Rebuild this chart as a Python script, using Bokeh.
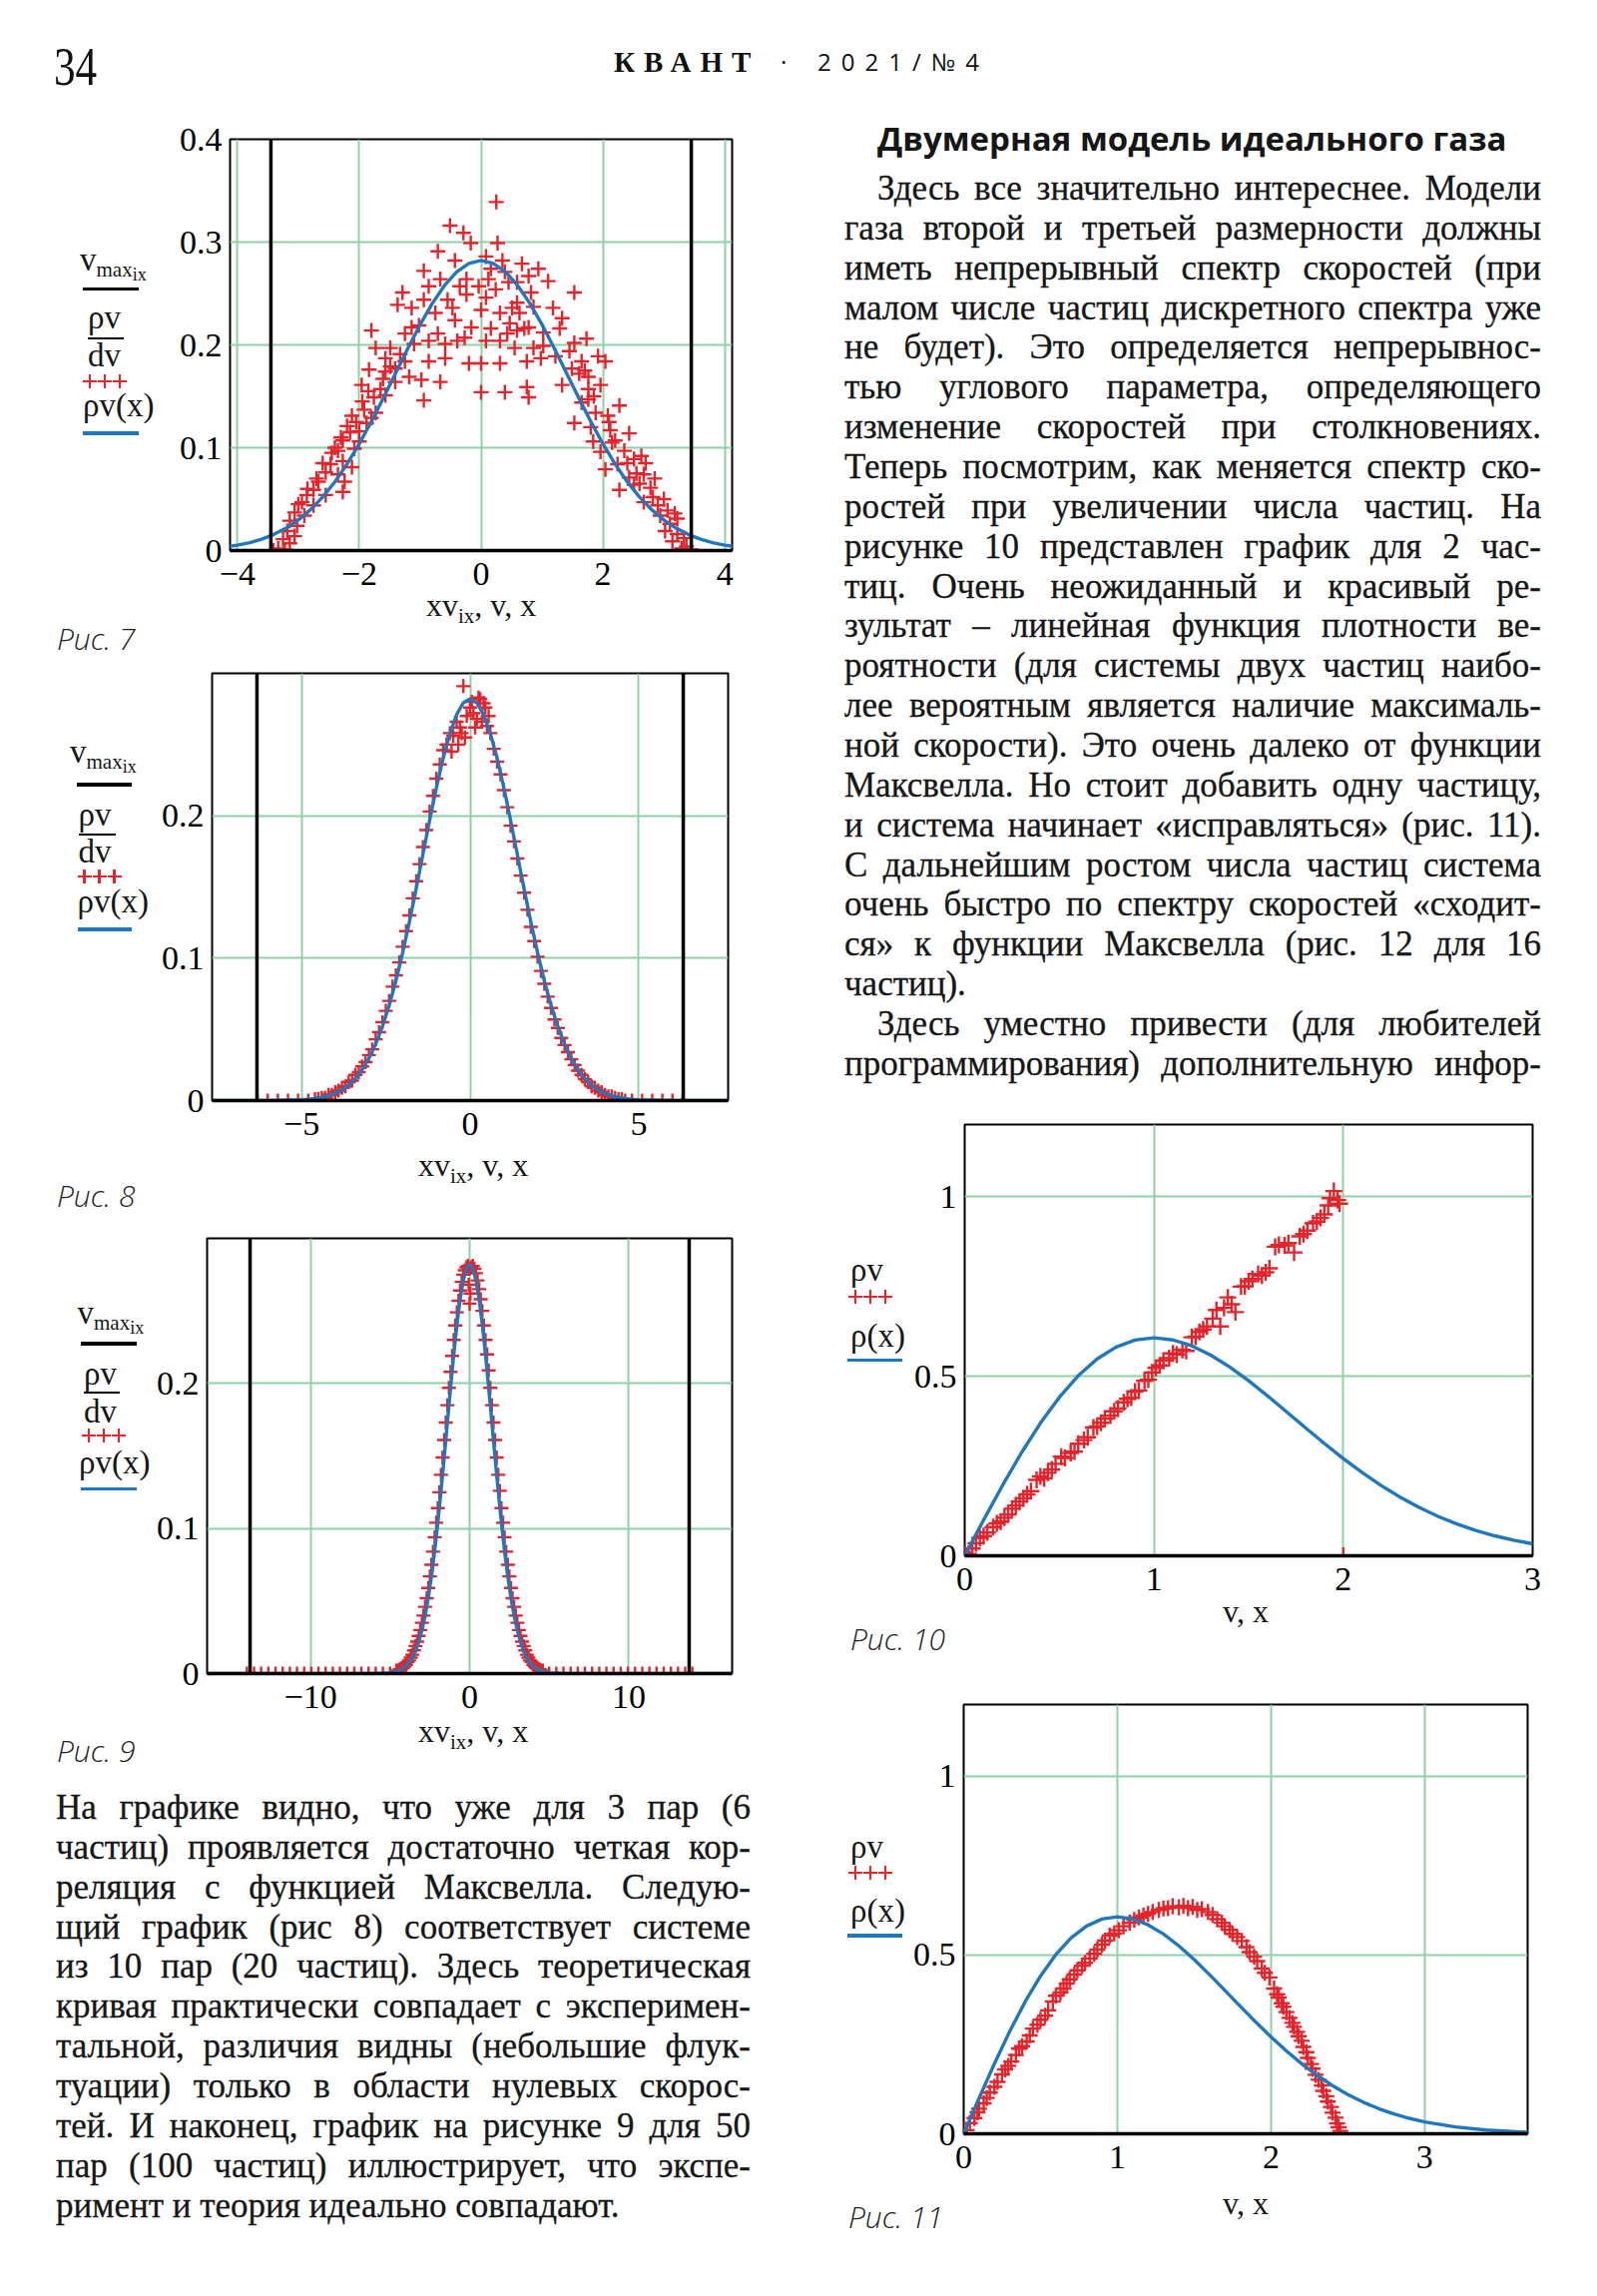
from bokeh.plotting import figure
from bokeh.models import Range1d, FixedTicker, CustomJSTickFormatter, Span, Div
from bokeh.layouts import column, row
from bokeh.embed import file_html
from bokeh.resources import INLINE

# ------------------------------------------------------------------ data
# theoretical density rho_v(x), figs 7-9
GAUSS_X = [-16.5, -10.0, -7.65, -6.0, -5.0,
           -4.8, -4.6, -4.4, -4.2, -4.0, -3.8, -3.6, -3.4, -3.2, -3.0,
           -2.8, -2.6, -2.4, -2.2, -2.0, -1.8, -1.6, -1.4, -1.2, -1.0,
           -0.8, -0.6, -0.4, -0.2, 0.0, 0.2, 0.4, 0.6, 0.8, 1.0,
           1.2, 1.4, 1.6, 1.8, 2.0, 2.2, 2.4, 2.6, 2.8, 3.0,
           3.2, 3.4, 3.6, 3.8, 4.0, 4.2, 4.4, 4.6, 4.8,
           5.0, 6.0, 7.65, 10.0, 16.5]
GAUSS_Y = [0.0, 0.0, 0.0, 0.0001, 0.0005,
           0.0009, 0.0014, 0.0022, 0.0034, 0.0052, 0.0076, 0.0110, 0.0157, 0.0218, 0.0297,
           0.0397, 0.0521, 0.0668, 0.0841, 0.1038, 0.1255, 0.1487, 0.1728, 0.1968, 0.2197,
           0.2404, 0.2578, 0.2710, 0.2793, 0.2821, 0.2793, 0.2710, 0.2578, 0.2404, 0.2197,
           0.1968, 0.1728, 0.1487, 0.1255, 0.1038, 0.0841, 0.0668, 0.0521, 0.0397, 0.0297,
           0.0218, 0.0157, 0.0110, 0.0076, 0.0052, 0.0034, 0.0022, 0.0014, 0.0009,
           0.0005, 0.0001, 0.0, 0.0, 0.0]

# theoretical density rho(x), figs 10-11
RHO_X = [0.0, 0.1, 0.2, 0.3, 0.4, 0.5, 0.6, 0.7, 0.8, 0.9, 1.0,
         1.1, 1.2, 1.3, 1.4, 1.5, 1.6, 1.7, 1.8, 1.9, 2.0,
         2.1, 2.2, 2.3, 2.4, 2.5, 2.6, 2.7, 2.8, 2.9, 3.0,
         3.2, 3.4, 3.6, 3.7]
RHO_Y = [0.0, 0.0995, 0.196, 0.2868, 0.3692, 0.4412, 0.5012, 0.5479, 0.5809, 0.6003, 0.6065,
         0.6007, 0.5841, 0.5585, 0.5254, 0.4870, 0.4448, 0.4007, 0.3562, 0.3126, 0.2707,
         0.2316, 0.1956, 0.1633, 0.1347, 0.1098, 0.0884, 0.0704, 0.0555, 0.0432, 0.0333,
         0.0191, 0.0105, 0.0055, 0.0039]

# maximal velocities (black vertical lines)
VMAX7 = [-3.45, 3.45]
VMAX8 = [-6.32, 6.32]
VMAX9 = [-13.8, 13.8]

# experimental points, fig 7 (6 particles)
FIG7_PTS = [
    (0.25, 0.339), (-0.51, 0.316), (-0.29, 0.309), (-0.17, 0.299), (0.27, 0.299), (-0.71, 0.291),
    (-0.43, 0.282), (0.08, 0.286), (0.35, 0.282), (-0.94, 0.272), (0.67, 0.279), (0.94, 0.274),
    (1.10, 0.262), (1.53, 0.251), (-1.29, 0.251), (-0.86, 0.257), (-0.67, 0.264), (0.45, 0.261),
    (0.16, 0.274), (-1.37, 0.239), (-1.14, 0.236), (-1.80, 0.214), (-0.94, 0.244), (-0.47, 0.236),
    (-0.24, 0.249), (0.08, 0.246), (0.59, 0.241), (0.82, 0.251), (1.18, 0.236), (1.33, 0.226),
    (-1.02, 0.219), (-0.71, 0.211), (-0.43, 0.224), (-0.16, 0.217), (0.16, 0.216), (0.47, 0.221),
    (0.78, 0.217), (1.02, 0.212), (1.29, 0.216), (1.53, 0.202), (1.73, 0.206), (-1.73, 0.197),
    (-1.57, 0.187), (-1.33, 0.191), (-1.10, 0.201), (-0.86, 0.184), (-0.59, 0.187), (-0.20, 0.182),
    (0.00, 0.182), (0.31, 0.182), (0.75, 0.184), (0.98, 0.187), (1.22, 0.189), (1.45, 0.194),
    (1.65, 0.184), (1.92, 0.189), (-1.84, 0.176), (-1.61, 0.167), (-1.41, 0.177), (-1.18, 0.169),
    (-0.98, 0.166), (-0.67, 0.164), (0.00, 0.154), (0.39, 0.154), (0.75, 0.159), (0.78, 0.149),
    (1.33, 0.161), (1.61, 0.172), (1.76, 0.169), (1.96, 0.161), (1.76, 0.147), (-1.96, 0.161),
    (-1.76, 0.149), (-1.57, 0.151), (-0.94, 0.146), (-1.92, 0.137), (-2.12, 0.131), (-1.88, 0.124),
    (-2.00, 0.116), (-2.20, 0.121), (-2.27, 0.107), (-2.08, 0.099), (-2.35, 0.097), (-2.27, 0.087),
    (-2.47, 0.084), (-2.55, 0.076), (-2.35, 0.074), (-2.67, 0.067), (-2.75, 0.059), (-2.55, 0.054),
    (-2.86, 0.054), (-2.94, 0.047), (-2.75, 0.044), (-3.06, 0.037), (-2.90, 0.034), (-3.14, 0.029),
    (-3.02, 0.024), (-3.18, 0.019), (-3.06, 0.014), (-3.25, 0.011), (-3.14, 0.007), (-3.33, 0.002),
    (-3.22, 0.001), (-3.41, 0.000), (-2.27, 0.057), (-2.12, 0.081), (-2.24, 0.067), (-2.00, 0.106),
    (-1.80, 0.129), (-1.73, 0.134), (-2.40, 0.100), (-2.30, 0.110), (-2.15, 0.115), (-2.60, 0.085),
    (-2.70, 0.070), (-2.85, 0.060), (-3.00, 0.045), (-2.45, 0.095), (-2.05, 0.125), (-1.95, 0.145),
    (-1.85, 0.155), (1.53, 0.124), (1.88, 0.134), (2.08, 0.131), (2.27, 0.141), (2.12, 0.117),
    (1.84, 0.106), (1.96, 0.096), (2.20, 0.107), (2.43, 0.114), (2.35, 0.097), (2.04, 0.079),
    (2.24, 0.084), (2.51, 0.089), (2.63, 0.092), (2.43, 0.071), (2.67, 0.074), (2.27, 0.059),
    (2.51, 0.064), (2.78, 0.061), (2.82, 0.052), (2.67, 0.047), (2.90, 0.044), (3.06, 0.039),
    (2.94, 0.034), (3.18, 0.036), (3.10, 0.026), (3.22, 0.031), (3.02, 0.019), (3.22, 0.016),
    (3.33, 0.012), (3.14, 0.009), (3.37, 0.004), (3.45, 0.001), (3.29, 0.002), (2.60, 0.065),
    (2.70, 0.085), (2.85, 0.070), (3.00, 0.050), (2.55, 0.075), (2.40, 0.085), (1.65, 0.144),
    (1.76, 0.157), (1.49, 0.177), (2.04, 0.184), (1.70, 0.175), (1.85, 0.150), (1.80, 0.120),
    (2.10, 0.125), (2.15, 0.105), (1.02, 0.199), (0.86, 0.197), (0.55, 0.197), (0.43, 0.211),
    (0.51, 0.236), (0.63, 0.231), (0.71, 0.216), (-1.49, 0.197), (-1.25, 0.211), (-1.14, 0.217),
    (-0.86, 0.204), (-0.75, 0.231), (-0.55, 0.244), (-0.35, 0.257), (-0.24, 0.264), (-0.04, 0.257),
    (0.12, 0.264), (0.24, 0.254), (0.39, 0.271), (0.59, 0.261), (0.78, 0.267), (0.86, 0.237),
    (0.31, 0.231), (0.00, 0.234), (-0.27, 0.207), (-0.39, 0.204), (-0.59, 0.201), (0.08, 0.204),
    (0.31, 0.204), (0.59, 0.214), (-1.41, 0.164), (-1.65, 0.157), (-1.25, 0.184), (-1.49, 0.179),
    (-1.57, 0.174),
]

# experimental points, fig 8 (20 particles)
FIG8_PTS = [
    (-6.3, 0.0), (-6.0, 0.0), (-5.7, 0.0), (-5.4, 0.0), (-5.1, 0.0), (-4.8, 0.0),
    (-4.6, 0.001), (-4.5, 0.001), (-4.4, 0.002), (-4.3, 0.002), (-4.2, 0.004), (-4.1, 0.004),
    (-4.0, 0.006), (-3.9, 0.007), (-3.8, 0.009), (-3.7, 0.010), (-3.6, 0.013), (-3.5, 0.014),
    (-3.4, 0.018), (-3.3, 0.020), (-3.2, 0.024), (-3.1, 0.027), (-3.0, 0.032), (-2.9, 0.036),
    (-2.8, 0.043), (-2.7, 0.048), (-2.6, 0.055), (-2.5, 0.063), (-2.4, 0.070), (-2.3, 0.080),
    (-2.2, 0.088), (-2.1, 0.097), (-2.0, 0.108), (-1.9, 0.119), (-1.8, 0.130), (-1.7, 0.142),
    (-1.6, 0.154), (-1.5, 0.166), (-1.4, 0.178), (-1.3, 0.190), (-1.2, 0.203), (-1.1, 0.214),
    (-1.0, 0.226), (-0.9, 0.236), (-0.8, 0.246), (-0.7, 0.250), (-0.6, 0.258), (-0.5, 0.256),
    (-0.4, 0.266), (-0.3, 0.262), (-0.2, 0.291), (-0.1, 0.270), (0.0, 0.276), (0.1, 0.272),
    (0.2, 0.268), (0.3, 0.282), (0.4, 0.279), (0.5, 0.263), (0.6, 0.258), (0.7, 0.247),
    (0.8, 0.238), (0.9, 0.229), (1.0, 0.218), (1.1, 0.206), (1.2, 0.193), (1.3, 0.182),
    (1.4, 0.170), (1.5, 0.158), (1.6, 0.146), (1.7, 0.134), (1.8, 0.122), (1.9, 0.112),
    (2.0, 0.101), (2.1, 0.091), (2.2, 0.082), (2.3, 0.073), (2.4, 0.065), (2.5, 0.057),
    (2.6, 0.051), (2.7, 0.044), (2.8, 0.039), (2.9, 0.034), (3.0, 0.029), (3.1, 0.025),
    (3.2, 0.021), (3.3, 0.018), (3.4, 0.015), (3.5, 0.013), (3.6, 0.010), (3.7, 0.009),
    (3.8, 0.007), (3.9, 0.006), (4.0, 0.004), (4.1, 0.003), (4.2, 0.003), (4.3, 0.002),
    (4.4, 0.001), (4.5, 0.001), (4.6, 0.0), (4.8, 0.0), (5.1, 0.0), (5.4, 0.0),
    (5.7, 0.0), (6.0, 0.0), (6.3, 0.0),
    (-0.35, 0.250), (-0.15, 0.255), (0.15, 0.262), (0.35, 0.266), (-0.55, 0.245), (0.55, 0.270),
    (0.05, 0.280), (0.25, 0.283), (-0.25, 0.258), (0.45, 0.276),
]

# experimental points, fig 9 (100 particles)
FIG9_PTS = [
    (-14.0, 0.0), (-13.55, 0.0), (-13.1, 0.0), (-12.65, 0.0), (-12.2, 0.0), (-11.75, 0.0),
    (-11.3, 0.0), (-10.85, 0.0), (-10.4, 0.0), (-9.95, 0.0), (-9.5, 0.0), (-9.05, 0.0),
    (-8.6, 0.0), (-8.15, 0.0), (-7.7, 0.0), (-7.25, 0.0), (-6.8, 0.0), (-6.35, 0.0),
    (-5.9, 0.0), (-5.45, 0.0), (-5.0, 0.0),
    (-4.6, 0.002), (-4.5, 0.002), (-4.4, 0.003), (-4.3, 0.003), (-4.2, 0.004), (-4.1, 0.005),
    (-4.0, 0.006), (-3.9, 0.008), (-3.8, 0.009), (-3.7, 0.011), (-3.6, 0.013), (-3.5, 0.016),
    (-3.4, 0.019), (-3.3, 0.022), (-3.2, 0.026), (-3.1, 0.030), (-3.0, 0.035), (-2.9, 0.040),
    (-2.8, 0.046), (-2.7, 0.052), (-2.6, 0.059), (-2.5, 0.067), (-2.4, 0.075), (-2.3, 0.084),
    (-2.2, 0.094), (-2.1, 0.104), (-2.0, 0.114), (-1.9, 0.125), (-1.8, 0.137), (-1.7, 0.149),
    (-1.6, 0.161), (-1.5, 0.173), (-1.4, 0.185), (-1.3, 0.197), (-1.2, 0.208), (-1.1, 0.219),
    (-1.0, 0.230), (-0.9, 0.240), (-0.8, 0.249), (-0.7, 0.257), (-0.6, 0.264), (-0.5, 0.270),
    (-0.4, 0.275), (-0.3, 0.278), (-0.2, 0.280), (-0.1, 0.281), (0.0, 0.279), (-0.05, 0.268),
    (0.05, 0.262), (0.0, 0.255),
    (0.1, 0.280), (0.2, 0.281), (0.3, 0.279), (0.4, 0.276), (0.5, 0.271), (0.6, 0.265),
    (0.7, 0.258), (0.8, 0.250), (0.9, 0.240), (1.0, 0.230), (1.1, 0.220), (1.2, 0.209),
    (1.3, 0.197), (1.4, 0.185), (1.5, 0.173), (1.6, 0.161), (1.7, 0.149), (1.8, 0.137),
    (1.9, 0.126), (2.0, 0.114), (2.1, 0.104), (2.2, 0.094), (2.3, 0.084), (2.4, 0.075),
    (2.5, 0.067), (2.6, 0.059), (2.7, 0.052), (2.8, 0.046), (2.9, 0.040), (3.0, 0.035),
    (3.1, 0.030), (3.2, 0.026), (3.3, 0.022), (3.4, 0.019), (3.5, 0.016), (3.6, 0.013),
    (3.7, 0.011), (3.8, 0.009), (3.9, 0.008), (4.0, 0.006), (4.1, 0.005), (4.2, 0.004),
    (4.3, 0.003), (4.4, 0.003), (4.5, 0.002), (4.6, 0.002),
    (5.0, 0.0), (5.45, 0.0), (5.9, 0.0), (6.35, 0.0), (6.8, 0.0), (7.25, 0.0),
    (7.7, 0.0), (8.15, 0.0), (8.6, 0.0), (9.05, 0.0), (9.5, 0.0), (9.95, 0.0),
    (10.4, 0.0), (10.85, 0.0), (11.3, 0.0), (11.75, 0.0), (12.2, 0.0), (12.65, 0.0),
    (13.1, 0.0), (13.55, 0.0), (14.0, 0.0),
]

# experimental points, fig 10 (2 particles)
FIG10_PTS = [
    (0.00, 0.010), (0.02, 0.005), (0.04, 0.020), (0.06, 0.035), (0.08, 0.050), (0.10, 0.055),
    (0.12, 0.065), (0.15, 0.080), (0.17, 0.090), (0.19, 0.095), (0.21, 0.106), (0.23, 0.115),
    (0.25, 0.131), (0.27, 0.140), (0.29, 0.151), (0.31, 0.160), (0.33, 0.171), (0.35, 0.180),
    (0.38, 0.211), (0.40, 0.221), (0.42, 0.215), (0.44, 0.231), (0.46, 0.240), (0.48, 0.256),
    (0.51, 0.276), (0.53, 0.272), (0.56, 0.286), (0.58, 0.290), (0.60, 0.312), (0.63, 0.322),
    (0.65, 0.330), (0.68, 0.357), (0.70, 0.360), (0.72, 0.370), (0.74, 0.382), (0.77, 0.390),
    (0.79, 0.402), (0.81, 0.410), (0.84, 0.427), (0.86, 0.437), (0.88, 0.440), (0.90, 0.457),
    (0.92, 0.460), (0.95, 0.487), (0.97, 0.490), (0.99, 0.510), (1.01, 0.523), (1.03, 0.530),
    (1.05, 0.543), (1.08, 0.550), (1.10, 0.563), (1.12, 0.560), (1.15, 0.573), (1.17, 0.570),
    (1.20, 0.608), (1.22, 0.610), (1.24, 0.623), (1.26, 0.630), (1.28, 0.638), (1.31, 0.660),
    (1.33, 0.684), (1.35, 0.638), (1.37, 0.690), (1.39, 0.719), (1.41, 0.700), (1.43, 0.678),
    (1.46, 0.749), (1.48, 0.750), (1.50, 0.764), (1.52, 0.770), (1.55, 0.784), (1.57, 0.780),
    (1.59, 0.789), (1.61, 0.800), (1.64, 0.860), (1.66, 0.865), (1.69, 0.864), (1.71, 0.870),
    (1.74, 0.844), (1.77, 0.889), (1.79, 0.895), (1.81, 0.905), (1.84, 0.925), (1.86, 0.930),
    (1.88, 0.940), (1.90, 0.950), (1.92, 0.975), (1.93, 0.995), (1.95, 1.015), (1.97, 0.990),
    (1.98, 0.980), (2.00, 0.000),
]

# experimental points, fig 11 (3 particles)
FIG11_PTS = [
    (0.00, 0.000), (0.02, 0.010), (0.04, 0.030), (0.07, 0.044), (0.09, 0.060), (0.10, 0.070),
    (0.13, 0.085), (0.15, 0.100), (0.17, 0.115), (0.20, 0.131), (0.22, 0.145), (0.25, 0.166),
    (0.27, 0.180), (0.29, 0.190), (0.31, 0.202), (0.34, 0.220), (0.36, 0.238), (0.38, 0.245),
    (0.41, 0.258), (0.43, 0.275), (0.45, 0.294), (0.48, 0.305), (0.50, 0.319), (0.53, 0.330),
    (0.55, 0.345), (0.58, 0.370), (0.60, 0.386), (0.63, 0.395), (0.65, 0.406), (0.67, 0.420),
    (0.69, 0.432), (0.72, 0.445), (0.74, 0.457), (0.77, 0.470), (0.79, 0.478), (0.82, 0.490),
    (0.85, 0.503), (0.87, 0.515), (0.90, 0.529), (0.92, 0.540), (0.95, 0.554), (0.98, 0.560),
    (1.01, 0.569), (1.04, 0.580), (1.08, 0.590), (1.11, 0.598), (1.14, 0.605), (1.17, 0.610),
    (1.20, 0.615), (1.23, 0.620), (1.27, 0.626), (1.30, 0.630), (1.33, 0.631), (1.36, 0.636),
    (1.40, 0.633), (1.43, 0.637), (1.46, 0.631), (1.49, 0.634), (1.52, 0.626), (1.55, 0.628),
    (1.59, 0.620), (1.62, 0.612), (1.65, 0.600), (1.68, 0.590), (1.70, 0.580), (1.73, 0.570),
    (1.75, 0.559), (1.78, 0.550), (1.81, 0.539), (1.84, 0.522), (1.86, 0.508), (1.89, 0.495),
    (1.91, 0.483), (1.94, 0.462), (1.96, 0.450), (1.99, 0.437), (2.02, 0.406), (2.04, 0.390),
    (2.05, 0.381), (2.07, 0.365), (2.08, 0.355), (2.10, 0.340), (2.12, 0.324), (2.14, 0.310),
    (2.15, 0.299), (2.17, 0.285), (2.18, 0.273), (2.20, 0.260), (2.21, 0.243), (2.23, 0.228),
    (2.24, 0.212), (2.26, 0.195), (2.27, 0.182), (2.29, 0.165), (2.31, 0.151), (2.33, 0.135),
    (2.34, 0.120), (2.36, 0.105), (2.37, 0.090), (2.39, 0.075), (2.40, 0.059), (2.42, 0.045),
    (2.43, 0.029), (2.44, 0.018), (2.45, 0.008),
]

# axis ticks
X7_TICKS, Y7_TICKS = [-4, -2, 0, 2, 4], [0, 0.1, 0.2, 0.3, 0.4]
X8_TICKS, Y8_TICKS = [-5, 0, 5], [0, 0.1, 0.2]
X9_TICKS, Y9_TICKS = [-10, 0, 10], [0, 0.1, 0.2]
X10_TICKS, Y10_TICKS = [0, 1, 2, 3], [0, 0.5, 1]
X11_TICKS, Y11_TICKS = [0, 1, 2, 3], [0, 0.5, 1]

# page texts
HEADER_PAGE = "34"
HEADER_MAG = "КВАНТ"
HEADER_ISSUE = "2021/№4"
TITLE = "Двумерная модель идеального газа"
RIGHT_LINES = [
    "Здесь все значительно интереснее. Модели",
    "газа второй и третьей размерности должны",
    "иметь непрерывный спектр скоростей (при",
    "малом числе частиц дискретного спектра уже",
    "не будет). Это определяется непрерывнос-",
    "тью углового параметра, определяющего",
    "изменение скоростей при столкновениях.",
    "Теперь посмотрим, как меняется спектр ско-",
    "ростей при увеличении числа частиц. На",
    "рисунке 10 представлен график для 2 час-",
    "тиц. Очень неожиданный и красивый ре-",
    "зультат – линейная функция плотности ве-",
    "роятности (для системы двух частиц наибо-",
    "лее вероятным является наличие максималь-",
    "ной скорости). Это очень далеко от функции",
    "Максвелла. Но стоит добавить одну частицу,",
    "и система начинает «исправляться» (рис. 11).",
    "С дальнейшим ростом числа частиц система",
    "очень быстро по спектру скоростей «сходит-",
    "ся» к функции Максвелла (рис. 12 для 16",
    "частиц).",
    "Здесь уместно привести (для любителей",
    "программирования) дополнительную инфор-",
]
RIGHT_MODES = ["ji"] + ["j"] * 19 + ["l", "ji", "j"]
LEFT_LINES = [
    "На графике видно, что уже для 3 пар (6",
    "частиц) проявляется достаточно четкая кор-",
    "реляция с функцией Максвелла. Следую-",
    "щий график (рис 8) соответствует системе",
    "из 10 пар (20 частиц). Здесь теоретическая",
    "кривая практически совпадает с эксперимен-",
    "тальной, различия видны (небольшие флук-",
    "туации) только в области нулевых скорос-",
    "тей. И наконец, график на рисунке 9 для 50",
    "пар (100 частиц) иллюстрирует, что экспе-",
    "римент и теория идеально совпадают.",
]
LEFT_MODES = ["j"] * 10 + ["l"]

# ------------------------------------------------------------------ style
RED = "#e5232b"
BLUE = "#1f78be"
GREEN = "#8ed2a6"
INK = "#161616"
SERIF = "Liberation Serif"
SANS = "Open Sans"
SERIF_ASC = 0.8375   # baseline offset for line-height = 1em
SANS_ASC = 0.888
LEG = 33             # legend font size

TICK_FMT = "return tick < 0 ? '\u2212' + String(-tick) : String(tick);"


def chart(w, h, bl, br, bt, bb, xr, yr, xt, yt):
    p = figure(width=w, height=h, x_range=Range1d(*xr), y_range=Range1d(*yr),
               output_backend="svg", toolbar_location=None, title=None,
               min_border_left=bl, min_border_right=br, min_border_top=bt, min_border_bottom=bb,
               background_fill_color="white", border_fill_color="white", margin=0)
    p.outline_line_color = "black"
    p.outline_line_width = 2
    for ax, ticks in ((p.xaxis[0], xt), (p.yaxis[0], yt)):
        ax.ticker = FixedTicker(ticks=ticks)
        ax.formatter = CustomJSTickFormatter(code=TICK_FMT)
        ax.major_tick_line_color = None
        ax.minor_tick_line_color = None
        ax.major_tick_out = 0
        ax.major_tick_in = 0
        ax.minor_tick_out = 0
        ax.minor_tick_in = 0
        ax.axis_line_color = None
        ax.major_label_text_font = SERIF
        ax.major_label_text_font_size = "34px"
        ax.major_label_text_color = "black"
    p.xaxis.axis_line_color = "black"
    p.xaxis.axis_line_width = 3.5
    p.xaxis.major_label_standoff = 12
    p.yaxis.major_label_standoff = 8
    p.xgrid.ticker = FixedTicker(ticks=xt)
    p.ygrid.ticker = FixedTicker(ticks=yt)
    for g in (p.xgrid[0], p.ygrid[0]):
        g.grid_line_color = GREEN
        g.grid_line_width = 2
    return p


def xy(pts):
    return [a for a, b in pts], [b for a, b in pts]


def gauss_chart(w, h, bl, br, bt, bb, xr, yr, xt, yt, vmax, pts, msize):
    p = chart(w, h, bl, br, bt, bb, xr, yr, xt, yt)
    for v in vmax:
        p.add_layout(Span(location=v, dimension="height", line_color="black", line_width=3.5))
    xs, ys = xy(pts)
    p.scatter(xs, ys, marker="cross", size=msize, line_color=RED, line_width=2.4)
    p.line(GAUSS_X, GAUSS_Y, line_color=BLUE, line_width=3.4)
    return p


def rho_chart(w, h, bl, br, bt, bb, xr, yr, xt, yt, pts, msize):
    p = chart(w, h, bl, br, bt, bb, xr, yr, xt, yt)
    xs, ys = xy(pts)
    p.scatter(xs, ys, marker="cross", size=msize, line_color=RED, line_width=2.4)
    p.line(RHO_X, RHO_Y, line_color=BLUE, line_width=3.4)
    return p


# ------------------------------------------------------------------ html helpers (page pixel coords)
def t(X, Y, text, size, o, color=INK, font=SERIF, asc=SERIF_ASC, extra=""):
    ox, oy = o
    return (f'<span style="position:absolute;left:{X - ox:.1f}px;top:{Y - asc * size - oy:.1f}px;'
            f'white-space:nowrap;font-family:\'{font}\';font-size:{size}px;line-height:{size}px;'
            f'color:{color};{extra}">{text}</span>')


def bar(X0, X1, Y, w, color, o):
    ox, oy = o
    return (f'<div style="position:absolute;left:{X0 - ox:.1f}px;top:{Y - w / 2 - oy:.1f}px;'
            f'width:{X1 - X0:.1f}px;height:{w}px;background:{color};"></div>')


def vbar(X, Y0, Y1, w, color, o):
    ox, oy = o
    return (f'<div style="position:absolute;left:{X - w / 2 - ox:.1f}px;top:{Y0 - oy:.1f}px;'
            f'width:{w}px;height:{Y1 - Y0:.1f}px;background:{color};"></div>')


def crosses(X0, Yc, o, n=3, s=14, step=15, w=2.4):
    out = []
    for k in range(n):
        xc = X0 + s / 2 + k * step
        out.append(bar(xc - s / 2, xc + s / 2, Yc, w, RED, o))
        out.append(vbar(xc, Yc - s / 2, Yc + s / 2, w, RED, o))
    return "".join(out)


def box(parts, w, h):
    html = f'<div style="position:relative;width:{w}px;height:{h}px;">' + "".join(parts) + "</div>"
    return Div(text=html, width=w, height=h, margin=0)


VMAX_HTML = ('v<span style="font-size:21px;vertical-align:-6px;">max'
             '<span style="font-size:18px;vertical-align:-4px;">ix</span></span>')


def gauss_legend(o, vx, vy, rl, nx, ny, bl_, dx, dy, px, py, rx, ry, ul):
    return [
        t(vx, vy, VMAX_HTML, LEG, o),
        bar(rl[0], rl[1], rl[2], 3.5, "black", o),
        t(nx, ny, "ρv", LEG, o),
        bar(bl_[0], bl_[1], bl_[2], 2, "black", o),
        t(dx, dy, "dv", LEG, o),
        crosses(px, py, o),
        t(rx, ry, "ρv(x)", LEG, o),
        bar(ul[0], ul[1], ul[2], 3.5, BLUE, o),
    ]


def rho_legend(o, nx, ny, px, py, rx, ry, ul):
    return [
        t(nx, ny, "ρv", LEG, o),
        crosses(px, py, o),
        t(rx, ry, "ρ(x)", LEG, o),
        bar(ul[0], ul[1], ul[2], 3.5, BLUE, o),
    ]


def xlabel_gauss(X, Y, o):
    return t(X, Y, 'xv<span style="font-size:21px;vertical-align:-7px;">ix</span>, v, x', 32, o)


def caption(X, Y, text, o):
    return t(X, Y, text, 30, o, color="#232323", font=SANS, asc=SANS_ASC,
             extra="font-style:italic;font-weight:300;")


# ------------------------------------------------------------------ left column blocks
# fig 7: row at page y 100..592, caption block 592..662
o7 = (8, 100)
leg7 = box(gauss_legend(o7, 80, 272, (83, 139, 289.5), 88, 330, (88, 124, 338.7),
                        88, 368, 83, 382, 83, 418, (83, 139, 434)), 160, 492)
fig7 = gauss_chart(640, 492, 62, 75, 39, 41, (-4.12, 4.12), (0, 0.4), X7_TICKS, Y7_TICKS, VMAX7,
                   FIG7_PTS, 15)
o7b = (8, 592)
cap7 = box([xlabel_gauss(427, 617, o7b), caption(57, 652, "Рис. 7", o7b)], 800, 70)

# fig 8: row at page y 662..1145, caption block 1145..1216
o8 = (8, 662)
leg8 = box(gauss_legend(o8, 70, 765, (77, 132, 785.7), 78.5, 828, (78.5, 116, 835.7),
                        78.5, 865, 77.5, 878, 77.5, 915, (77.5, 132, 931)), 150, 483)
fig8 = gauss_chart(650, 483, 53, 79, 12, 43, (-7.65, 7.65), (0, 0.30), X8_TICKS, Y8_TICKS, VMAX8,
                   FIG8_PTS, 14)
o8b = (8, 1145)
cap8 = box([xlabel_gauss(419, 1178, o8b), caption(57, 1210, "Рис. 8", o8b)], 800, 71)

# fig 9: row at page y 1216..1716, caption block 1716..1772
o9 = (8, 1216)
leg9 = box(gauss_legend(o9, 77.5, 1327, (81, 137, 1345.7), 84, 1388, (84, 120, 1395),
                        84, 1426, 82, 1438, 79, 1477, (81, 137, 1491.4)), 145, 500)
fig9 = gauss_chart(655, 500, 51, 75, 24, 40, (-16.5, 16.5), (0, 0.30), X9_TICKS, Y9_TICKS, VMAX9,
                   FIG9_PTS, 14)
o9b = (8, 1716)
cap9 = box([xlabel_gauss(419, 1745, o9b), caption(57, 1766, "Рис. 9", o9b)], 800, 56)


# ------------------------------------------------------------------ right column blocks
# fig 10: row at page y 1100..1602, caption block 1602..1665
o10 = (808, 1100)
leg10 = box(rho_legend(o10, 852, 1284, 850, 1299, 852, 1350, (849, 904, 1362.4)), 104, 502)
fig10 = rho_chart(680, 502, 53, 57, 26, 44, (0, 3), (0, 1.2), X10_TICKS, Y10_TICKS, FIG10_PTS, 17)
o10b = (808, 1602)
cap10 = box([t(1225, 1625, "v, x", 32, o10b), caption(852, 1654, "Рис. 10", o10b)], 784, 63)

# fig 11: row at page y 1665..2180, caption block 2180..2292
o11 = (808, 1665)
leg11 = box(rho_legend(o11, 852, 1862, 850, 1876, 852, 1926, (849, 904, 1939)), 103, 515)
fig11 = rho_chart(681, 515, 53, 62, 42, 43, (0, 3.67), (0, 1.2), X11_TICKS, Y11_TICKS, FIG11_PTS, 16)
o11b = (808, 2180)
cap11 = box([t(1225, 2218, "v, x", 32, o11b), caption(850, 2233, "Рис. 11", o11b)], 784, 112)


# ------------------------------------------------------------------ text blocks
def lines_html(lines, modes, width, size, lh, indent):
    out = []
    for ln, m in zip(lines, modes):
        st = f"height:{lh}px;line-height:{lh}px;"
        if m.startswith("j"):
            st += "text-align:justify;text-align-last:justify;"
        else:
            st += "text-align:left;"
        if m.endswith("i"):
            st += f"text-indent:{indent}px;"
        out.append(f'<div style="{st}">{ln}</div>')
    return (f'<div style="width:{width}px;font-family:\'{SERIF}\';font-size:{size}px;'
            f'color:{INK};-webkit-text-stroke:0.3px {INK};">' + "".join(out) + "</div>")


header_html = (
    '<div style="position:relative;width:1584px;height:92px;color:#111;">'
    f'<span style="position:absolute;left:46px;top:32px;display:inline-block;font-family:\'{SERIF}\';'
    f'font-size:54px;line-height:54px;transform:scaleX(0.8);transform-origin:0 0;">{HEADER_PAGE}</span>'
    f'<span style="position:absolute;left:607px;top:40px;white-space:nowrap;font-family:\'{SERIF}\';'
    f'font-weight:bold;font-size:29px;line-height:29px;letter-spacing:9px;">{HEADER_MAG}</span>'
    f'<span style="position:absolute;left:774px;top:42px;white-space:nowrap;font-family:\'{SANS}\';'
    'font-size:24px;line-height:24px;">·</span>'
    f'<span style="position:absolute;left:811px;top:42px;white-space:nowrap;font-family:\'{SANS}\';'
    f'font-size:24px;line-height:24px;letter-spacing:10px;">{HEADER_ISSUE}</span>'
    '</div>'
)
header = Div(text=header_html, width=1584, height=92, margin=0)

right_html = (
    '<div style="position:relative;width:784px;height:1000px;">'
    f'<div style="position:absolute;left:71px;top:22px;white-space:nowrap;font-family:\'{SANS}\';'
    f'font-weight:bold;font-size:33px;line-height:33px;color:{INK};">{TITLE}</div>'
    '<div style="position:absolute;left:38px;top:69px;">'
    + lines_html(RIGHT_LINES, RIGHT_MODES, 698, 35, 39.86, 33) +
    '</div></div>'
)
right_text = Div(text=right_html, width=784, height=1000, margin=0)

left_html = (
    '<div style="position:relative;width:800px;height:520px;">'
    '<div style="position:absolute;left:48px;top:19px;">'
    + lines_html(LEFT_LINES, LEFT_MODES, 696, 35, 39.86, 33) +
    '</div></div>'
)
left_text = Div(text=left_html, width=800, height=500, margin=0)

left_col = column(row(leg7, fig7, margin=0), cap7, row(leg8, fig8, margin=0), cap8,
                  row(leg9, fig9, margin=0), cap9, left_text, margin=0)
right_col = column(right_text, row(leg10, fig10, margin=0), cap10, row(leg11, fig11, margin=0), cap11,
                   margin=0)
# the page is offset by the 8px page margin
page = column(header, row(left_col, right_col, margin=0), margin=(8, 0, 0, 8))

open("out.html", "w").write(file_html(page, INLINE))
